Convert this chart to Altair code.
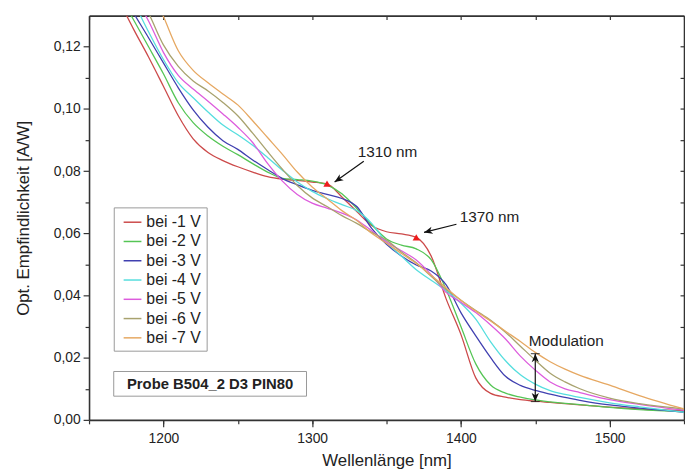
import altair as alt
import pandas as pd

# ---------------- data ----------------
wavelength = [1170, 1180, 1190, 1200, 1210, 1220, 1230, 1240, 1250, 1260,
              1270, 1280, 1290, 1300, 1310, 1320, 1330, 1340, 1350, 1360,
              1370, 1380, 1390, 1400, 1410, 1420, 1430, 1440, 1450, 1460,
              1470, 1480, 1500, 1520, 1550]

bei_1V = [0.1350, 0.1256, 0.1167, 0.1073, 0.0978, 0.0904, 0.0860, 0.0834, 0.0814, 0.0797,
          0.0782, 0.0774, 0.0770, 0.0765, 0.0759, 0.0717, 0.0670, 0.0625, 0.0605, 0.0598,
          0.0587, 0.0527, 0.0390, 0.0275, 0.0135, 0.0085, 0.0073, 0.0065, 0.0060, 0.0056,
          0.0052, 0.0048, 0.0041, 0.0035, 0.0029]
bei_2V = [0.1370, 0.1286, 0.1200, 0.1113, 0.1020, 0.0956, 0.0913, 0.0880, 0.0853, 0.0824,
          0.0797, 0.0777, 0.0773, 0.0768, 0.0756, 0.0727, 0.0680, 0.0628, 0.0582, 0.0562,
          0.0550, 0.0515, 0.0420, 0.0300, 0.0180, 0.0112, 0.0086, 0.0073, 0.0064, 0.0058,
          0.0053, 0.0049, 0.0040, 0.0033, 0.0026]
bei_3V = [0.1390, 0.1308, 0.1229, 0.1148, 0.1068, 0.0997, 0.0941, 0.0898, 0.0870, 0.0836,
          0.0805, 0.0776, 0.0756, 0.0738, 0.0725, 0.0712, 0.0686, 0.0616, 0.0565, 0.0527,
          0.0498, 0.0479, 0.0435, 0.0345, 0.0270, 0.0200, 0.0140, 0.0111, 0.0095, 0.0083,
          0.0072, 0.0063, 0.0048, 0.0038, 0.0025]
bei_4V = [0.1430, 0.1343, 0.1248, 0.1159, 0.1084, 0.1036, 0.0990, 0.0948, 0.0917, 0.0883,
          0.0844, 0.0803, 0.0765, 0.0735, 0.0712, 0.0692, 0.0673, 0.0632, 0.0571, 0.0527,
          0.0483, 0.0449, 0.0416, 0.0375, 0.0324, 0.0251, 0.0190, 0.0145, 0.0115, 0.0094,
          0.0082, 0.0072, 0.0055, 0.0042, 0.0025]
bei_5V = [0.1450, 0.1365, 0.1283, 0.1182, 0.1108, 0.1064, 0.1025, 0.0984, 0.0941, 0.0892,
          0.0825, 0.0768, 0.0725, 0.0697, 0.0681, 0.0665, 0.0643, 0.0608, 0.0572, 0.0544,
          0.0514, 0.0467, 0.0410, 0.0378, 0.0345, 0.0305, 0.0260, 0.0205, 0.0160, 0.0122,
          0.0100, 0.0088, 0.0065, 0.0050, 0.0031]
bei_6V = [0.1480, 0.1390, 0.1308, 0.1206, 0.1137, 0.1090, 0.1058, 0.1021, 0.0978, 0.0922,
          0.0863, 0.0806, 0.0754, 0.0714, 0.0686, 0.0657, 0.0632, 0.0603, 0.0578, 0.0540,
          0.0505, 0.0462, 0.0420, 0.0385, 0.0352, 0.0320, 0.0282, 0.0237, 0.0192, 0.0150,
          0.0122, 0.0100, 0.0070, 0.0052, 0.0035]
bei_7V = [0.1650, 0.1520, 0.1400, 0.1297, 0.1187, 0.1124, 0.1084, 0.1048, 0.1013, 0.0962,
          0.0908, 0.0854, 0.0797, 0.0749, 0.0711, 0.0673, 0.0641, 0.0600, 0.0568, 0.0535,
          0.0503, 0.0465, 0.0425, 0.0385, 0.0350, 0.0318, 0.0285, 0.0252, 0.0217, 0.0187,
          0.0163, 0.0143, 0.0112, 0.0078, 0.0035]

series_names = ["bei -1 V", "bei -2 V", "bei -3 V", "bei -4 V",
                "bei -5 V", "bei -6 V", "bei -7 V"]
series_values = [bei_1V, bei_2V, bei_3V, bei_4V, bei_5V, bei_6V, bei_7V]
series_colors = ["#cc4a4a", "#55c555", "#4040b0", "#55dede",
                 "#dd5cdd", "#a8a26e", "#e6a862"]

# marked points (red triangles)
marker_wl = [1310, 1370]
marker_val = [0.0760, 0.0587]

# annotation texts
note_text = ["1310 nm", "1370 nm", "Modulation"]
note_wl = [1330.7, 1399.2, 1445.7]
note_val = [0.0860, 0.0651, 0.0254]

# annotation arrows: start -> tip
arrow_wl0 = [1334.7, 1397.0]
arrow_val0 = [0.0832, 0.0629]
arrow_wl1 = [1315.1, 1375.2]
arrow_val1 = [0.0765, 0.0603]
arrow_angle = [146, 166]

# modulation double arrow
mod_wl = 1450
mod_low = 0.0059
mod_high = 0.0213

# sample label box
probe_text = "Probe B504_2 D3 PIN80"
probe_wl = [1166.6, 1296.2]
probe_val = [0.00762, 0.01556]

x_major = [1200, 1300, 1400, 1500]
x_all = [1150, 1200, 1250, 1300, 1350, 1400, 1450, 1500, 1550]
y_major = [0.0, 0.02, 0.04, 0.06, 0.08, 0.10, 0.12]
y_minor = [0.01, 0.03, 0.05, 0.07, 0.09, 0.11]
y_all = [0.01, 0.02, 0.03, 0.04, 0.05, 0.06, 0.07, 0.08, 0.09, 0.10, 0.11, 0.12]

# ---------------- tables ----------------
rows = []
for name, vals in zip(series_names, series_values):
    for w, v in zip(wavelength, vals):
        rows.append({"wl": w, "resp": v, "series": name})
df = pd.DataFrame(rows)

markers = pd.DataFrame({"wl": marker_wl, "resp": marker_val})
notes = pd.DataFrame({"wl": note_wl, "resp": note_val, "txt": note_text})
arrows = pd.DataFrame({"wl": arrow_wl0, "resp": arrow_val0,
                       "wl2": arrow_wl1, "resp2": arrow_val1})
heads = pd.DataFrame({"wl": arrow_wl1 + [mod_wl, mod_wl],
                      "resp": arrow_val1 + [mod_high, mod_low],
                      "ang": arrow_angle + [270, 90]})
mod_line = pd.DataFrame({"wl": [mod_wl], "resp": [mod_low], "resp2": [mod_high]})
mod_caps = pd.DataFrame({"wl": [mod_wl, mod_wl], "resp": [mod_low, mod_high]})
probe_box = pd.DataFrame({"wl": [probe_wl[0]], "wl2": [probe_wl[1]],
                          "resp": [probe_val[0]], "resp2": [probe_val[1]]})
probe_lbl = pd.DataFrame({"wl": [(probe_wl[0] + probe_wl[1]) / 2],
                          "resp": [(probe_val[0] + probe_val[1]) / 2],
                          "txt": [probe_text]})

# ---------------- styling ----------------
FONT = "Liberation Sans"
AX = "#333333"
TXT = "#222222"
W, H = 602, 409

xs = alt.Scale(domain=[1150, 1550], nice=False, zero=False)
ys = alt.Scale(domain=[0, 0.13], nice=False, zero=False)
comma = "replace(format(datum.value, '.2f'), '.', ',')"

common = dict(grid=False, tickColor=AX, domainColor=AX, domainWidth=1.6, tickWidth=1.2)

lines = alt.Chart(df).mark_line(clip=True, strokeWidth=1.3, interpolate="monotone").encode(
    x=alt.X("wl:Q", scale=xs, axis=alt.Axis(
        orient="bottom", values=x_major, format="d", title="Wellenlänge [nm]",
        tickSize=7, labelFont=FONT, labelFontSize=14, labelColor=TXT, labelPadding=5,
        titleFont=FONT, titleFontSize=17, titleFontWeight="normal", titleColor=TXT,
        titlePadding=7, **common)),
    y=alt.Y("resp:Q", scale=ys, axis=alt.Axis(
        orient="left", values=y_major, labelExpr=comma, title="Opt. Empfindlichkeit [A/W]",
        tickSize=6, labelFont=FONT, labelFontSize=14, labelColor=TXT, labelPadding=3,
        titleFont=FONT, titleFontSize=17, titleFontWeight="normal", titleColor=TXT,
        titlePadding=21, **common)),
    color=alt.Color("series:N", scale=alt.Scale(domain=series_names, range=series_colors),
                    legend=alt.Legend(orient="none", legendX=25, legendY=194, title=None,
                                      symbolType="stroke", symbolSize=324, symbolStrokeWidth=1.5,
                                      symbolOffset=4, labelOffset=4, labelFont=FONT,
                                      labelFontSize=16, labelColor=TXT, padding=5,
                                      rowPadding=1.5, strokeColor="#999999",
                                      fillColor="white")),
)

minor_axes = alt.Chart(df).mark_point(opacity=0, size=1).encode(
    x=alt.X("wl:Q", scale=xs, axis=alt.Axis(
        orient="bottom", values=x_all, labels=False, domain=False, title=None,
        tickSize=4, grid=False, tickColor=AX, tickWidth=1.2)),
    y=alt.Y("resp:Q", scale=ys, axis=alt.Axis(
        orient="left", values=y_minor, labels=False, domain=False, title=None,
        tickSize=4, grid=False, tickColor=AX, tickWidth=1.2)),
)

mirror_axes = alt.Chart(df).mark_point(opacity=0, size=1).encode(
    x=alt.X("wl:Q", scale=xs, axis=alt.Axis(
        orient="bottom", offset=-H, values=x_all, labels=False, title=None,
        tickSize=4, **common)),
    y=alt.Y("resp:Q", scale=ys, axis=alt.Axis(
        orient="left", offset=-W, values=y_all, labels=False, title=None,
        tickSize=4, **common)),
)

box = alt.Chart(probe_box).mark_rect(fill="white", stroke="#999999", strokeWidth=1).encode(
    x=alt.X("wl:Q", scale=xs, axis=None), x2="wl2:Q",
    y=alt.Y("resp:Q", scale=ys, axis=None), y2="resp2:Q")

box_text = alt.Chart(probe_lbl).mark_text(font=FONT, fontSize=15, fontWeight="bold",
                                          color=TXT, align="center", baseline="middle").encode(
    x=alt.X("wl:Q", scale=xs, axis=None), y=alt.Y("resp:Q", scale=ys, axis=None), text="txt:N")

note_marks = alt.Chart(notes).mark_text(font=FONT, fontSize=15.5, color=TXT,
                                        align="left", baseline="middle").encode(
    x=alt.X("wl:Q", scale=xs, axis=None), y=alt.Y("resp:Q", scale=ys, axis=None), text="txt:N")

arrow_lines = alt.Chart(arrows).mark_rule(color="#111111", strokeWidth=1.2).encode(
    x=alt.X("wl:Q", scale=xs, axis=None), x2="wl2:Q",
    y=alt.Y("resp:Q", scale=ys, axis=None), y2="resp2:Q")

mod_rule = alt.Chart(mod_line).mark_rule(color="#111111", strokeWidth=1.2).encode(
    x=alt.X("wl:Q", scale=xs, axis=None),
    y=alt.Y("resp:Q", scale=ys, axis=None), y2="resp2:Q")

caps = alt.Chart(mod_caps).mark_tick(color="#111111", orient="horizontal", size=9,
                                     thickness=1.2).encode(
    x=alt.X("wl:Q", scale=xs, axis=None), y=alt.Y("resp:Q", scale=ys, axis=None))

arrow_heads = alt.Chart(heads).mark_point(
    shape="M0,0L-1,-0.42L-0.72,0L-1,0.42Z", filled=True, color="#111111",
    size=300, opacity=1).encode(
    x=alt.X("wl:Q", scale=xs, axis=None), y=alt.Y("resp:Q", scale=ys, axis=None),
    angle=alt.Angle("ang:Q", scale=None))

marker_pts = alt.Chart(markers).mark_point(shape="triangle-up", filled=True,
                                           color="#ee1c1c", size=55, opacity=1).encode(
    x=alt.X("wl:Q", scale=xs, axis=None), y=alt.Y("resp:Q", scale=ys, axis=None))

chart = alt.layer(
    lines, minor_axes, mirror_axes, box, box_text, note_marks,
    arrow_lines, mod_rule, caps, arrow_heads, marker_pts
).resolve_axis(x="independent", y="independent").properties(
    width=W, height=H,
    autosize=alt.AutoSizeParams(type="none"),
    padding={"left": 82, "top": 5, "right": 1, "bottom": 50},
    background="white",
).configure_view(stroke=None)

chart.save("out.html", embed_options={"renderer": "svg", "actions": False})
